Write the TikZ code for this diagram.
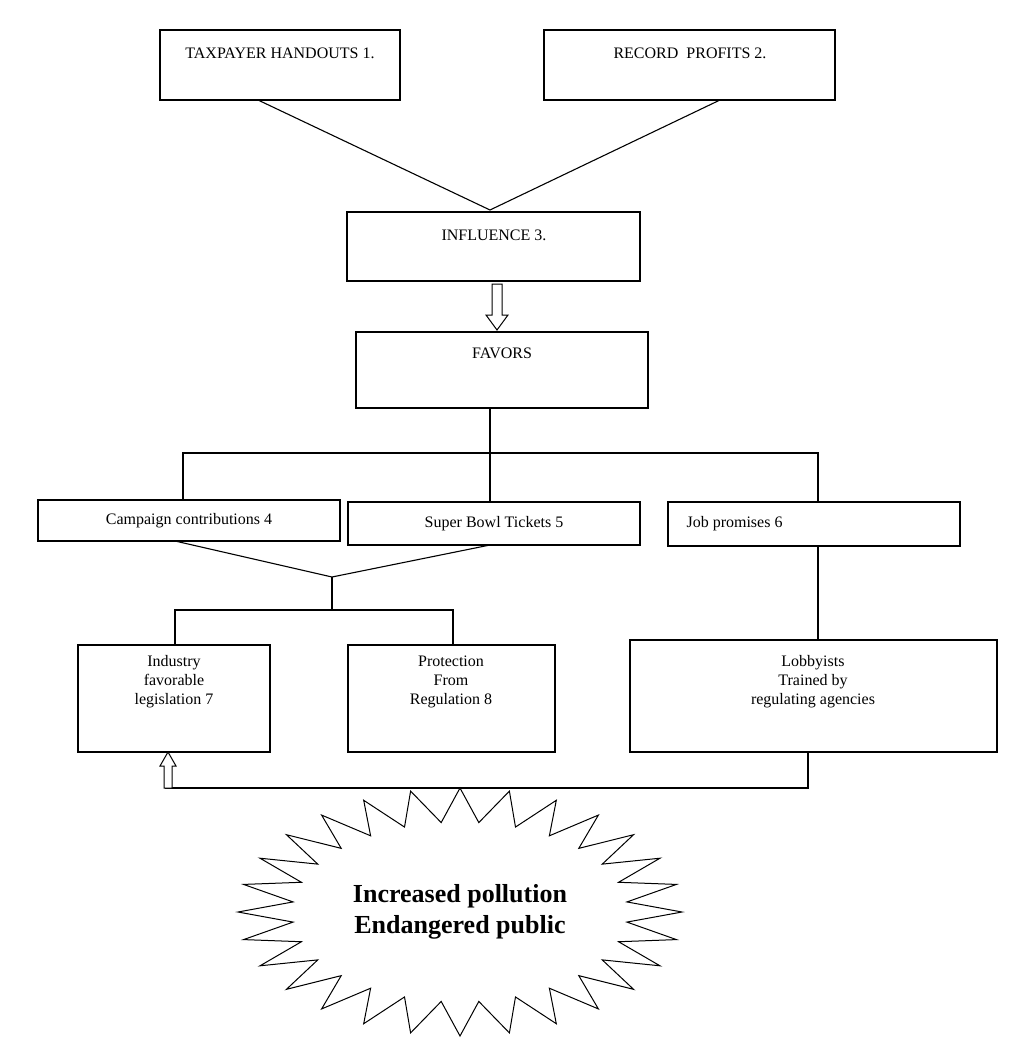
\documentclass[tikz,border=0pt]{standalone}
\usepackage{fontspec}
\setmainfont{Liberation Serif}
\usetikzlibrary{calc}
\begin{document}
\begin{tikzpicture}[
    x=1pt, y=-1pt,
    txt/.style={font=\fontsize{16}{19}\selectfont, align=center},
    link/.style={line width=1.1pt},
    hollow/.style={draw, line width=1pt, fill=white}
]
\useasboundingbox (0,0) rectangle (1016,1063);

% --- Kaesten (Ecken in Bildpunkten) ---
\newcommand{\mybox}[5]{%
  \draw[link] (#2,#3) rectangle (#4,#5);
  \coordinate (#1) at ({(#2+#4)/2},{(#3+#5)/2});}

\mybox{tax}{160}{30}{400}{100}
\mybox{rec}{544}{30}{835}{100}
\mybox{infl}{347}{212}{640}{281}
\mybox{fav}{356}{332}{648}{408}
\mybox{camp}{38}{500}{340}{541}
\mybox{bowl}{348}{502}{640}{545}
\mybox{job}{668}{502}{960}{546}
\mybox{ind}{78}{645}{270}{752}
\mybox{prot}{348}{645}{555}{752}
\mybox{lob}{630}{640}{997}{752}

\node[txt] (taxT) at (280,53) {TAXPAYER HANDOUTS 1.};
\node[txt] (recT) at (690,53) {RECORD\ \ PROFITS 2.};
\node[txt] (inflT) at (494,235) {INFLUENCE 3.};
\node[txt] (favT) at (502,353) {FAVORS};
\node[txt] (campT) at (camp) {Campaign contributions 4};
\node[txt] (bowlT) at (bowl) {Super Bowl Tickets 5};
\node[txt, anchor=west] (jobT) at (683,524) {Job promises 6};
\node[txt, anchor=north] (indT) at (174,652) {Industry\\favorable\\legislation 7};
\node[txt, anchor=north] (protT) at (451,652) {Protection\\From\\Regulation 8};
\node[txt, anchor=north] (lobT) at (813,652) {Lobbyists\\Trained by\\regulating agencies};

% --- Verbindungen ---
\coordinate (apex) at (490,210);
\draw[link] (258,100) -- (apex) -- (720,100);

% Hohlpfeil INFLUENCE -> FAVORS
\draw[hollow] (492,284) -- (502,284) -- (502,315) -- (508,315) -- (497,330)
  -- (486,315) -- (492,315) -- cycle;

\coordinate (split) at (490,453);
\draw[link] (490,408) -- (split);
\draw[link] (183,500) -- (183,453) -- (818,453) -- (818,502);
\draw[link] (split) -- (490,502);

\coordinate (meet) at (332,577);
\draw[link] (175,541) -- (meet) -- (490,545);
\draw[link] (meet) -- (332,610);
\draw[link] (175,645) -- (175,610) -- (453,610) -- (453,645);

\draw[link] (818,546) -- (818,640);

\draw[link] (808,752) -- (808,788) -- (165,788);
% Hohlpfeil nach oben
\draw[hollow] (164,788) -- (164,766) -- (160,766) -- (168,752) -- (176,766)
  -- (172,766) -- (172,788) -- cycle;

% --- Stern ---
\coordinate (burst) at (460,912);
\draw[line width=1pt, fill=white] (460,788)
  \foreach \k in {1,...,55}{
    -- ({460+(195+27*cos(\k*180))*sin(\k*6.42857)},
        {912-(107+17*cos(\k*180))*cos(\k*6.42857)})
  } -- cycle;
\node[font=\fontsize{26}{31}\selectfont\bfseries, align=center] (burstT) at (burst)
  {Increased pollution\\Endangered public};
\end{tikzpicture}
\end{document}
